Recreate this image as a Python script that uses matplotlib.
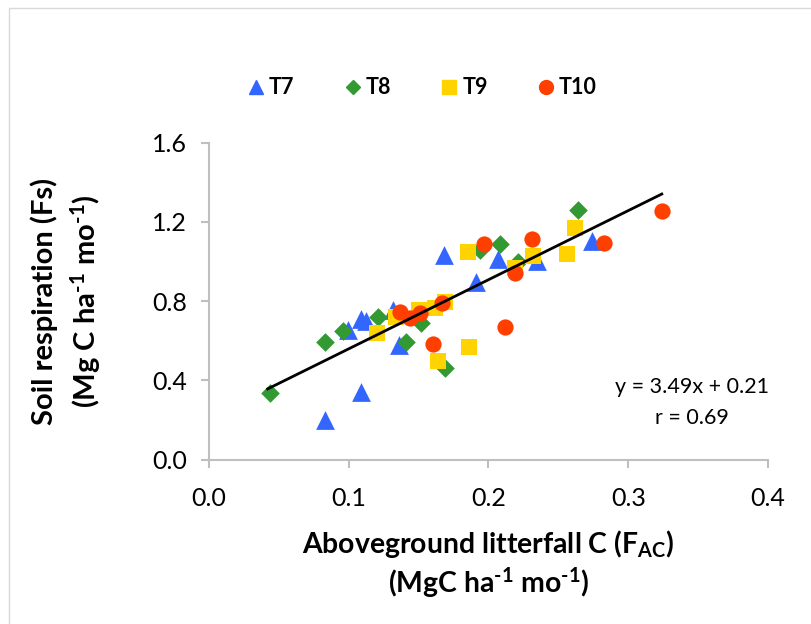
import matplotlib
matplotlib.use("Agg")
import matplotlib.pyplot as plt
from matplotlib.patches import Rectangle
from matplotlib.lines import Line2D

# Monthly aboveground litterfall C (x) vs soil respiration (y) per treatment
t7_x = [0.083, 0.109, 0.0995, 0.109, 0.112, 0.136, 0.132, 0.168, 0.191, 0.207, 0.235, 0.274]
t7_y = [0.20, 0.34, 0.656, 0.71, 0.70, 0.58, 0.755, 1.034, 0.894, 1.014, 1.004, 1.105]

t8_x = [0.044, 0.083, 0.096, 0.121, 0.141, 0.152, 0.169, 0.194, 0.208, 0.221, 0.264]
t8_y = [0.334, 0.592, 0.649, 0.718, 0.595, 0.691, 0.462, 1.058, 1.088, 0.999, 1.26]

t9_x = [0.120, 0.134, 0.150, 0.162, 0.169, 0.164, 0.186, 0.185, 0.219, 0.232, 0.256, 0.262]
t9_y = [0.637, 0.718, 0.755, 0.764, 0.793, 0.496, 0.568, 1.05, 0.966, 1.03, 1.038, 1.171]

t10_x = [0.137, 0.144, 0.151, 0.167, 0.160, 0.212, 0.197, 0.231, 0.219, 0.283, 0.324]
t10_y = [0.747, 0.713, 0.738, 0.789, 0.583, 0.667, 1.088, 1.112, 0.943, 1.092, 1.255]

# Linear fit reported on the chart
slope, intercept, r_value = 3.49, 0.21, 0.69
fit_x = [0.042, 0.324]

x_ticks = [0.0, 0.1, 0.2, 0.3, 0.4]
y_ticks = [0.0, 0.4, 0.8, 1.2, 1.6]

BLUE = "#3366FF"
GREEN = "#339933"
YELLOW = "#FFD300"
ORANGE = "#FF3F00"
AXIS_GRAY = "#BFBFBF"

plt.rcParams["font.family"] = ["Lato", "DejaVu Sans"]
plt.rcParams["mathtext.fontset"] = "custom"
plt.rcParams["mathtext.rm"] = "Lato"
plt.rcParams["mathtext.it"] = "Lato:italic"
plt.rcParams["mathtext.bf"] = "Lato:bold"

fig = plt.figure(figsize=(8.12, 6.24), dpi=100)
fig.patches.append(Rectangle((9 / 812, -0.01), 1.0, 1 - 8 / 624 + 0.01,
                             transform=fig.transFigure, fill=False,
                             edgecolor="#D9D9D9", linewidth=1.0))

ax = fig.add_axes([209 / 812, 1 - 459.5 / 624, (768 - 209) / 812, (459.5 - 142.7) / 624])

ax.scatter(t7_x, t7_y, marker="^", s=13.5 ** 2, color=BLUE, linewidths=0, zorder=3)
ax.scatter(t8_x, t8_y, marker="D", s=9.5 ** 2, color=GREEN, linewidths=0, zorder=3)
ax.scatter(t9_x, t9_y, marker="s", s=11.3 ** 2, color=YELLOW, linewidths=0, zorder=3)
ax.scatter(t10_x, t10_y, marker="o", s=11.7 ** 2, color=ORANGE, linewidths=0, zorder=3)

ax.plot(fit_x, [slope * v + intercept for v in fit_x], color="black", linewidth=2.0, zorder=4)

ax.set_xlim(0, 0.4)
ax.set_ylim(0, 1.6)
ax.set_xticks(x_ticks)
ax.set_yticks(y_ticks)
ax.set_xticklabels([f"{v:.1f}" for v in x_ticks])
ax.set_yticklabels([f"{v:.1f}" for v in y_ticks])

for side in ("top", "right"):
    ax.spines[side].set_visible(False)
for side in ("left", "bottom"):
    ax.spines[side].set_color(AXIS_GRAY)
    ax.spines[side].set_linewidth(1.5)
ax.tick_params(axis="both", colors=AXIS_GRAY, width=1.5, length=6,
               labelsize=18, labelcolor="black")
ax.tick_params(axis="x", pad=14)
ax.tick_params(axis="y", pad=10)

sup = "$^{\\mathbf{\u20101}}$"
ax.set_xlabel(f"Aboveground litterfall C (F$_{{\\mathbf{{AC}}}}$)\n(MgC ha{sup} mo{sup})",
              fontsize=20.4, fontweight="bold", linespacing=1.2, va="top")
ax.xaxis.set_label_coords(0.5, -0.215)
ax.set_ylabel(f"Soil respiration (Fs)\n(Mg C ha{sup} mo{sup})",
              fontsize=21, fontweight="bold", linespacing=1.35)
ax.yaxis.set_label_coords(-0.19, 0.5)

ax.text(0.3456, 0.366, f"y = {slope:.2f}x + {intercept:.2f}", ha="center", va="center", fontsize=15.5)
ax.text(0.3456, 0.21, f"r = {r_value:.2f}", ha="center", va="center", fontsize=15.5)

handles = [
    Line2D([], [], marker="^", linestyle="none", color=BLUE, markersize=10, label="T7"),
    Line2D([], [], marker="D", linestyle="none", color=GREEN, markersize=7, label="T8"),
    Line2D([], [], marker="s", linestyle="none", color=YELLOW, markersize=10, label="T9"),
    Line2D([], [], marker="o", linestyle="none", color=ORANGE, markersize=10, label="T10"),
]
fig.legend(handles=handles, loc="center", bbox_to_anchor=(421 / 812, 1 - 88 / 624),
           ncol=4, frameon=False, handletextpad=0.1, columnspacing=2.2,
           handlelength=1.0, prop={"weight": "bold", "size": 15.5})

fig.savefig("out.png", dpi=100)
